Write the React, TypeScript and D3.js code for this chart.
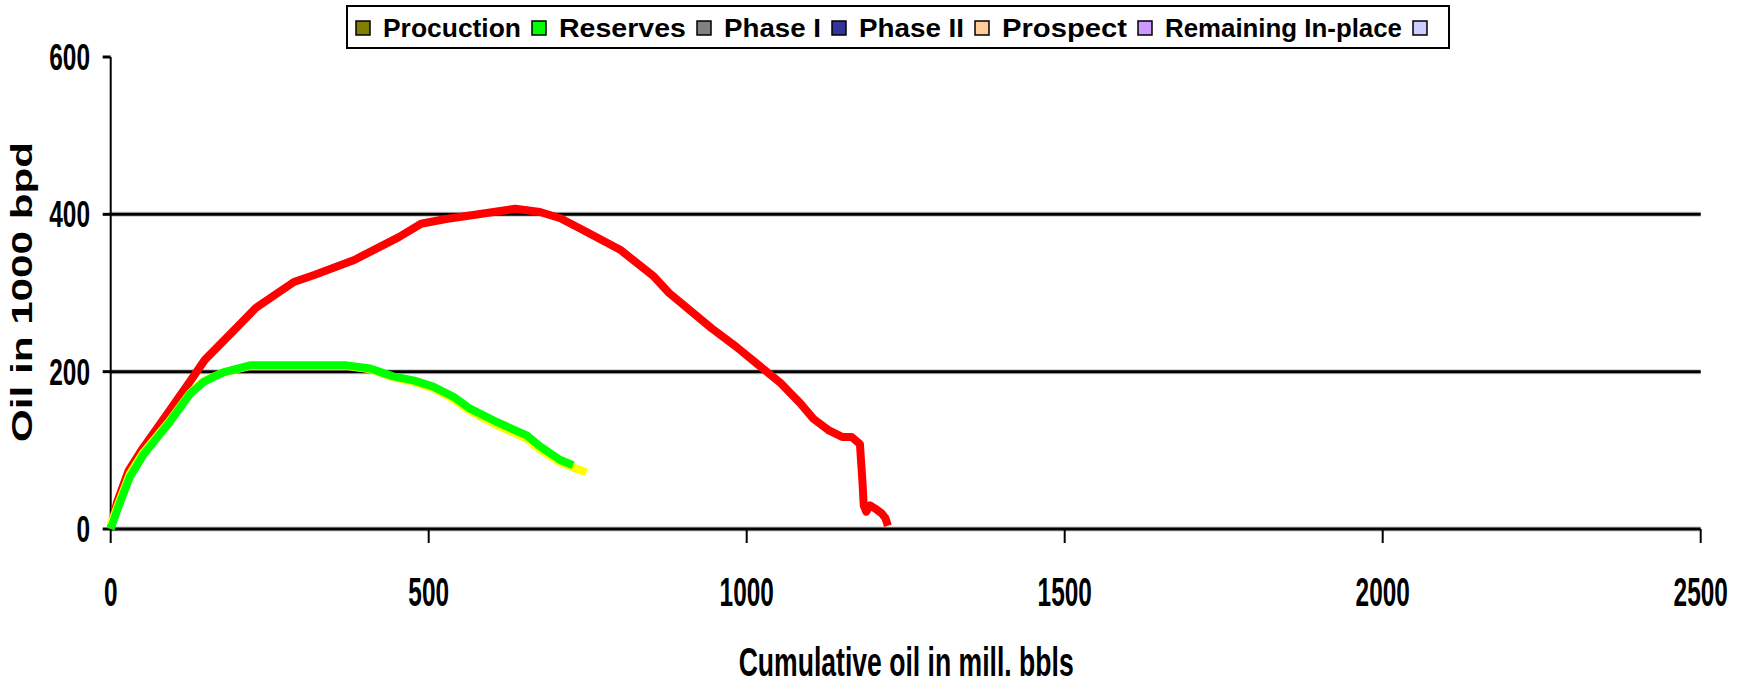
import React from "react";
import * as d3 from "d3";

const W = 1746;
const H = 684;

// Axis ticks
const xTicks = [0, 500, 1000, 1500, 2000, 2500];
const yTicks = [0, 200, 400, 600];
const gridValues = [200, 400];

// Red profile: cumulative oil (mill. bbls) vs rate (1000 bpd)
const redCum = [0, 10, 28, 50, 92, 125, 148, 198, 228, 288, 320, 383, 453, 488, 527, 636, 675, 707, 738, 801, 854, 878, 945, 983, 1054, 1084, 1105, 1130, 1150, 1165, 1178, 1182, 1184, 1188, 1194, 1202, 1212, 1218, 1222];
const redRate = [0, 34, 74, 102, 150, 188, 215, 256, 281, 314, 323, 342, 371, 388, 394, 407, 403, 395, 382, 355, 321, 300, 255, 232, 185, 160, 140, 125, 117, 117, 108, 60, 30, 22, 30, 26, 20, 14, 4];

// Yellow profile
const yellowCum = [0, 12, 30, 51, 91, 125, 146, 177, 219, 371, 408, 444, 476, 507, 539, 565, 607, 654, 675, 706, 727, 748];
const yellowRate = [5, 32, 70, 97, 136, 173, 188, 199, 207, 207, 203, 193, 187, 179, 165, 150, 132, 115, 101, 85, 78, 72];

// Green profile
const greenCum = [0, 12, 30, 51, 91, 125, 146, 177, 219, 371, 408, 444, 476, 507, 539, 565, 607, 654, 675, 706, 727];
const greenRate = [0, 28, 66, 94, 134, 172, 187, 199, 208, 208, 204, 194, 189, 181, 168, 153, 136, 119, 105, 88, 81];

// Legend entries
const legendLabels = ["Procuction", "Reserves", "Phase I", "Phase II", "Prospect", "Remaining In-place", ""];
const legendColors = ["#808000", "#00FF00", "#808080", "#333399", "#FFCC99", "#CC99FF", "#CCCCFF"];
const legendTextWidths = [138, 127, 97, 105, 125, 237, 0];

const FONT = "'Liberation Sans', Arial, sans-serif";

export default function App() {
  const x = d3.scaleLinear().domain([0, 2500]).range([110.7, 1700.7]);
  const y = d3.scaleLinear().domain([0, 600]).range([529, 57]);

  const line = d3
    .line<[number, number]>()
    .x((d) => x(d[0]))
    .y((d) => y(d[1]));

  const zip = (a: number[], b: number[]) => a.map((v, i) => [v, b[i]] as [number, number]);

  const series = [
    { color: "#FF0000", pts: zip(redCum, redRate) },
    { color: "#FFFF00", pts: zip(yellowCum, yellowRate) },
    { color: "#00FF00", pts: zip(greenCum, greenRate) },
  ];

  // legend layout
  const legendItems: { mx: number; tx: number; label: string; color: string; w: number }[] = [];
  let cx = 356;
  legendLabels.forEach((label, i) => {
    const mx = cx;
    const tx = mx + 15 + 12;
    legendItems.push({ mx, tx, label, color: legendColors[i], w: legendTextWidths[i] });
    cx = tx + legendTextWidths[i] + 11;
  });

  const x0 = x(0);
  const x1 = x(2500);

  return (
    <svg
      width={W}
      height={H}
      viewBox={`0 0 ${W} ${H}`}
      style={{ position: "absolute", left: 0, top: 0, background: "#fff" }}
      fontFamily={FONT}
      fontWeight="bold"
    >
      <rect x={0} y={0} width={W} height={H} fill="#fff" />

      {/* gridlines */}
      {gridValues.map((v) => (
        <g key={"g" + v}>
          <line x1={x0} x2={x1} y1={y(v)} y2={y(v)} stroke="#c8c8c8" strokeWidth={5} />
          <line x1={x0} x2={x1} y1={y(v)} y2={y(v)} stroke="#000" strokeWidth={3} />
        </g>
      ))}

      {/* x axis */}
      <line x1={x0} x2={x1} y1={y(0)} y2={y(0)} stroke="#c8c8c8" strokeWidth={5} />
      <line x1={x0} x2={x1} y1={y(0)} y2={y(0)} stroke="#000" strokeWidth={3} />
      {xTicks.map((t) => (
        <line key={"xt" + t} x1={x(t)} x2={x(t)} y1={y(0)} y2={y(0) + 14} stroke="#000" strokeWidth={2} />
      ))}

      {/* y axis */}
      <line x1={x0} x2={x0} y1={y(600)} y2={y(0)} stroke="#000" strokeWidth={2} />
      {yTicks.map((t) => (
        <line key={"yt" + t} x1={x0 - 8} x2={x0} y1={y(t)} y2={y(t)} stroke="#000" strokeWidth={3} />
      ))}

      {/* data lines */}
      {series.map((s, i) => (
        <path
          key={"s" + i}
          d={line(s.pts) || ""}
          fill="none"
          stroke={s.color}
          strokeWidth={8}
          strokeLinejoin="round"
        />
      ))}

      {/* y tick labels */}
      {yTicks.map((t) => (
        <text
          key={"yl" + t}
          transform={`translate(90,${y(t) + 13}) scale(0.66,1)`}
          textAnchor="end"
          fontSize={37}
          fill="#000"
        >
          {t}
        </text>
      ))}

      {/* x tick labels */}
      {xTicks.map((t) => (
        <text
          key={"xl" + t}
          transform={`translate(${x(t)},606) scale(0.61,1)`}
          textAnchor="middle"
          fontSize={40}
          fill="#000"
        >
          {t}
        </text>
      ))}

      {/* axis titles */}
      <text
        x={(x0 + x1) / 2 - 167}
        y={676}
        fontSize={40}
        textLength={335}
        lengthAdjust="spacingAndGlyphs"
        fill="#000"
      >
        Cumulative oil in mill. bbls
      </text>
      <text
        transform={`translate(32,442) rotate(-90)`}
        fontSize={30}
        textLength={300}
        lengthAdjust="spacingAndGlyphs"
        fill="#000"
      >
        Oil in 1000 bpd
      </text>

      {/* legend */}
      <rect x={347} y={6} width={1102} height={42} fill="#fff" stroke="#000" strokeWidth={2} />
      {legendItems.map((it, i) => (
        <g key={"lg" + i}>
          <rect x={it.mx} y={21} width={14} height={14} fill={it.color} stroke="#000" strokeWidth={1.5} />
          {it.label && (
            <text
              x={it.tx}
              y={37}
              fontSize={25}
              textLength={it.w}
              lengthAdjust="spacingAndGlyphs"
              fill="#000"
            >
              {it.label}
            </text>
          )}
        </g>
      ))}
    </svg>
  );
}
